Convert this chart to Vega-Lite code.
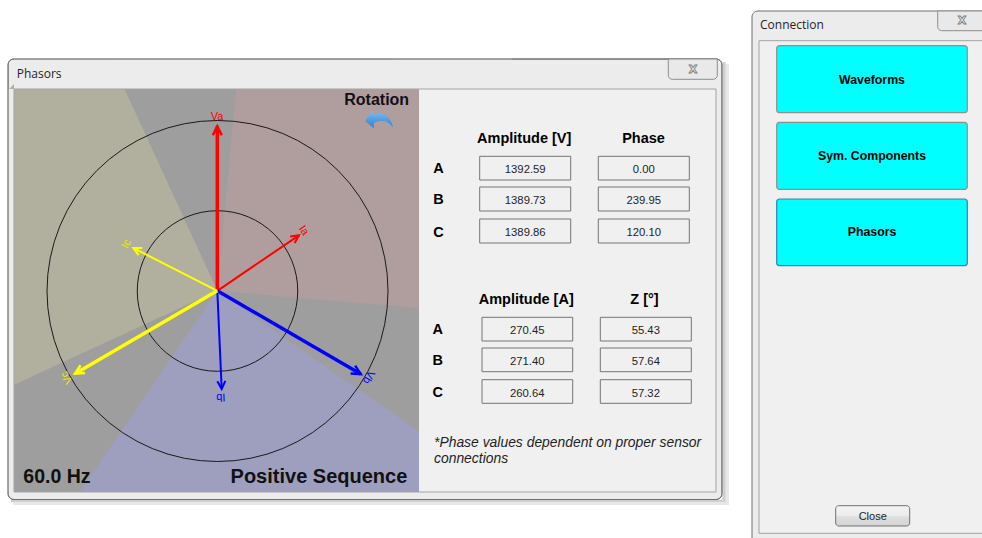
{
  "$schema": "https://vega.github.io/schema/vega-lite/v6.json",
  "width": 982,
  "height": 538,
  "autosize": {"type": "none"},
  "padding": 0,
  "background": "#ffffff",
  "config": {"view": {"stroke": null}},
  "data": {"values": [{}]},
  "datasets": {
    "frames": [
      {"x": 8, "x2": 722, "y": 59, "y2": 499.5},
      {"x": 752, "x2": 992, "y": 11, "y2": 545}
    ],
    "panel": [{"x": 14, "x2": 419, "y": 89, "y2": 492}],
    "sectors": [
      {"phase": "A", "start": 5.3, "end": 94.9},
      {"phase": "B", "start": 124.9, "end": 214.4},
      {"phase": "C", "start": 245.2, "end": 335.3}
    ],
    "covers": [
      {"kind": "white", "x": 0, "x2": 512, "y": 0, "y2": 58.5},
      {"kind": "white", "x": -100, "x2": 7.5, "y": 0, "y2": 538},
      {"kind": "white", "x": 7.5, "x2": 512, "y": 500, "y2": 600},
      {"kind": "shadowO", "x": 13, "x2": 729, "y": 500, "y2": 505},
      {"kind": "shadowO", "x": 722.5, "x2": 729, "y": 64, "y2": 505},
      {"kind": "shadowI", "x": 11, "x2": 725.5, "y": 500, "y2": 502},
      {"kind": "shadowI", "x": 722.5, "x2": 725.5, "y": 62, "y2": 502},
      {"kind": "frame", "x": 14, "x2": 512, "y": 59.5, "y2": 89},
      {"kind": "frame", "x": 8.5, "x2": 14, "y": 89, "y2": 492},
      {"kind": "frame", "x": 14, "x2": 512, "y": 492, "y2": 499},
      {"kind": "client", "x": 419, "x2": 716, "y": 89, "y2": 492},
      {"kind": "client", "x": 759, "x2": 992, "y": 40.7, "y2": 533.3}
    ],
    "outline": [{"x": 8, "x2": 722, "y": 59, "y2": 499.5}],
    "inner": [
      {"x": 14, "x2": 716, "y": 89, "y2": 492},
      {"x": 759, "x2": 992, "y": 40.7, "y2": 533.3}
    ],
    "titleButtons": [
      {"x": 668.3, "x2": 717.3, "y": 59, "y2": 79.3},
      {"x": 937.7, "x2": 992, "y": 11, "y2": 30.7}
    ],
    "titleX": [
      {"x": 693, "y": 70},
      {"x": 962, "y": 20.7}
    ],
    "phasors": [
      {"name": "Va", "phase": "A", "kind": "V", "x0": 217.3, "y0": 290.8, "x1": 217.3, "y1": 126.3, "dir": 0, "lx": 217, "ly": 116.5},
      {"name": "Ia", "phase": "A", "kind": "I", "x0": 217.3, "y0": 290.8, "x1": 299, "y1": 235.3, "dir": 55.8, "lx": 303.5, "ly": 230.7},
      {"name": "Vb", "phase": "B", "kind": "V", "x0": 217.3, "y0": 290.8, "x1": 360.7, "y1": 374, "dir": 120.1, "lx": 368.3, "ly": 377},
      {"name": "Ib", "phase": "B", "kind": "I", "x0": 217.3, "y0": 290.8, "x1": 221.7, "y1": 389, "dir": 177.4, "lx": 220.9, "ly": 397},
      {"name": "Vc", "phase": "C", "kind": "V", "x0": 217.3, "y0": 290.8, "x1": 75, "y1": 373.7, "dir": 239.8, "lx": 67, "ly": 377.5},
      {"name": "Ic", "phase": "C", "kind": "I", "x0": 217.3, "y0": 290.8, "x1": 133.3, "y1": 248, "dir": 297, "lx": 126.7, "ly": 244}
    ],
    "titles": [
      {"t": "Phasors", "x": 16.7, "y": 78.3},
      {"t": "Connection", "x": 760, "y": 29.3}
    ],
    "headers": [
      {"t": "Amplitude [V]", "x": 524.2, "y": 143},
      {"t": "Phase", "x": 643.5, "y": 143},
      {"t": "A", "x": 438.5, "y": 173.3},
      {"t": "B", "x": 438.5, "y": 204},
      {"t": "C", "x": 438.5, "y": 236.7},
      {"t": "Amplitude [A]", "x": 526.2, "y": 304.3},
      {"t": "Z [°]", "x": 644.5, "y": 304.3},
      {"t": "A", "x": 437.7, "y": 334.3},
      {"t": "B", "x": 437.7, "y": 365.3},
      {"t": "C", "x": 437.7, "y": 396.7}
    ],
    "readings": [
      {"v": "1392.59", "x": 479.7, "x2": 570.7, "y": 156.3, "y2": 180, "xc": 525.2, "yb": 173.1},
      {"v": "0.00", "x": 598.3, "x2": 689.3, "y": 156.3, "y2": 180, "xc": 643.8, "yb": 173.1},
      {"v": "1389.73", "x": 479.7, "x2": 570.7, "y": 187, "y2": 211, "xc": 525.2, "yb": 204},
      {"v": "239.95", "x": 598.3, "x2": 689.3, "y": 187, "y2": 211, "xc": 643.8, "yb": 204},
      {"v": "1389.86", "x": 479.7, "x2": 570.7, "y": 219, "y2": 243, "xc": 525.2, "yb": 236.3},
      {"v": "120.10", "x": 598.3, "x2": 689.3, "y": 219, "y2": 243, "xc": 643.8, "yb": 236.3},
      {"v": "270.45", "x": 482, "x2": 572.7, "y": 317.3, "y2": 341, "xc": 527.3, "yb": 334.3},
      {"v": "55.43", "x": 600.3, "x2": 691.3, "y": 317.3, "y2": 341, "xc": 645.8, "yb": 334.3},
      {"v": "271.40", "x": 482, "x2": 572.7, "y": 348, "y2": 371.7, "xc": 527.3, "yb": 365.3},
      {"v": "57.64", "x": 600.3, "x2": 691.3, "y": 348, "y2": 371.7, "xc": 645.8, "yb": 365.3},
      {"v": "260.64", "x": 482, "x2": 572.7, "y": 379.7, "y2": 403.3, "xc": 527.3, "yb": 396.7},
      {"v": "57.32", "x": 600.3, "x2": 691.3, "y": 379.7, "y2": 403.3, "xc": 645.8, "yb": 396.7}
    ],
    "footnote": [
      {"t": "*Phase values dependent on proper sensor", "x": 434, "y": 447.3},
      {"t": "connections", "x": 434, "y": 462.7}
    ],
    "buttons": [
      {"t": "Waveforms", "focus": "no", "x": 776.7, "x2": 967.3, "y": 45.7, "y2": 112.7, "xc": 872, "yb": 83.8},
      {"t": "Sym. Components", "focus": "no", "x": 776.7, "x2": 967.3, "y": 122.3, "y2": 189.3, "xc": 872, "yb": 160.3},
      {"t": "Phasors", "focus": "yes", "x": 776.7, "x2": 967.3, "y": 199, "y2": 265.7, "xc": 872, "yb": 236.3}
    ],
    "closeButton": [
      {"t": "Close", "x": 835.7, "x2": 909.7, "y": 505.7, "y2": 526, "xc": 872.7, "yb": 520}
    ],
    "panelLeft": [{"t": "60.0 Hz", "x": 23.3, "y": 483}],
    "panelRight": [{"t": "Positive Sequence", "x": 407.3, "y": 483}],
    "panelTop": [{"t": "Rotation", "x": 376.7, "y": 105.3}]
  },
  "resolve": {"scale": {"color": "independent", "size": "independent", "strokeWidth": "independent"}},
  "layer": [
    {
      "data": {"name": "frames"},
      "mark": {"type": "rect", "fill": "#ececec", "stroke": "#6e6e6e", "strokeWidth": 1, "cornerRadius": 6},
      "encoding": {
        "x": {"field": "x", "type": "quantitative", "scale": {"domain": [0, 982], "nice": false, "zero": false}, "axis": null},
        "x2": {"field": "x2"},
        "y": {"field": "y", "type": "quantitative", "scale": {"domain": [0, 538], "nice": false, "zero": false, "reverse": true}, "axis": null},
        "y2": {"field": "y2"}
      }
    },
    {
      "data": {"name": "panel"},
      "mark": {"type": "rect", "fill": "#9e9e9e"},
      "encoding": {
        "x": {"field": "x", "type": "quantitative", "axis": null},
        "x2": {"field": "x2"},
        "y": {"field": "y", "type": "quantitative", "axis": null},
        "y2": {"field": "y2"}
      }
    },
    {
      "data": {"name": "sectors"},
      "mark": {"type": "arc", "radius": 290},
      "encoding": {
        "x": {"datum": 217.3, "type": "quantitative", "axis": null},
        "y": {"datum": 290.8, "type": "quantitative", "axis": null},
        "theta": {"field": "start", "type": "quantitative", "stack": null, "scale": {"domain": [0, 360], "range": [0, 6.283185307179586], "zero": false, "nice": false}},
        "theta2": {"field": "end"},
        "color": {"field": "phase", "type": "nominal", "scale": {"domain": ["A", "B", "C"], "range": ["#b09e9e", "#9e9ebe", "#b1b09e"]}, "legend": null}
      }
    },
    {
      "data": {"name": "covers"},
      "mark": {"type": "rect"},
      "encoding": {
        "x": {"field": "x", "type": "quantitative", "axis": null},
        "x2": {"field": "x2"},
        "y": {"field": "y", "type": "quantitative", "axis": null},
        "y2": {"field": "y2"},
        "color": {"field": "kind", "type": "nominal", "scale": {"domain": ["white", "shadowO", "shadowI", "frame", "client"], "range": ["#ffffff", "#e8e8e8", "#cfcfcf", "#ececec", "#f0f0f0"]}, "legend": null}
      }
    },
    {
      "data": {"name": "outline"},
      "mark": {"type": "rect", "filled": false, "stroke": "#6e6e6e", "strokeWidth": 1, "cornerRadius": 6},
      "encoding": {
        "x": {"field": "x", "type": "quantitative", "axis": null},
        "x2": {"field": "x2"},
        "y": {"field": "y", "type": "quantitative", "axis": null},
        "y2": {"field": "y2"}
      }
    },
    {
      "data": {"name": "inner"},
      "mark": {"type": "rect", "filled": false, "stroke": "#a3a3a3", "strokeWidth": 1},
      "encoding": {
        "x": {"field": "x", "type": "quantitative", "axis": null},
        "x2": {"field": "x2"},
        "y": {"field": "y", "type": "quantitative", "axis": null},
        "y2": {"field": "y2"}
      }
    },
    {
      "data": {"name": "titleButtons"},
      "mark": {"type": "rect", "fill": "#e9e9e9", "stroke": "#8e8e8e", "strokeWidth": 1, "cornerRadiusBottomLeft": 4, "cornerRadiusBottomRight": 4},
      "encoding": {
        "x": {"field": "x", "type": "quantitative", "axis": null},
        "x2": {"field": "x2"},
        "y": {"field": "y", "type": "quantitative", "axis": null},
        "y2": {"field": "y2"}
      }
    },
    {
      "data": {"name": "titleX"},
      "mark": {"type": "text", "text": "X", "font": "DejaVu Sans", "fontWeight": "bold", "fontSize": 11, "fill": "#f7f7f7", "stroke": "#808080", "strokeWidth": 0.9, "align": "center", "baseline": "middle"},
      "encoding": {
        "x": {"field": "x", "type": "quantitative", "axis": null},
        "y": {"field": "y", "type": "quantitative", "axis": null}
      }
    },
    {
      "mark": {"type": "point", "shape": "circle", "size": 116281, "filled": false, "stroke": "#1a1a1a", "strokeWidth": 1, "opacity": 1},
      "encoding": {
        "x": {"datum": 217.5, "type": "quantitative", "axis": null},
        "y": {"datum": 291, "type": "quantitative", "axis": null}
      }
    },
    {
      "mark": {"type": "point", "shape": "circle", "size": 25760, "filled": false, "stroke": "#1a1a1a", "strokeWidth": 1, "opacity": 1},
      "encoding": {
        "x": {"datum": 217.5, "type": "quantitative", "axis": null},
        "y": {"datum": 291, "type": "quantitative", "axis": null}
      }
    },
    {
      "data": {"name": "phasors"},
      "mark": {"type": "rule"},
      "encoding": {
        "x": {"field": "x0", "type": "quantitative", "axis": null},
        "y": {"field": "y0", "type": "quantitative", "axis": null},
        "x2": {"field": "x1"},
        "y2": {"field": "y1"},
        "color": {"field": "phase", "type": "nominal", "scale": {"domain": ["A", "B", "C"], "range": ["#ff0000", "#0000ff", "#ffff00"]}, "legend": null},
        "strokeWidth": {"field": "kind", "type": "ordinal", "scale": {"domain": ["V", "I"], "range": [3.5, 2]}, "legend": null}
      }
    },
    {
      "data": {"name": "phasors"},
      "mark": {"type": "point", "shape": "M-0.5,1L0,0L0.5,1", "filled": false, "opacity": 1},
      "encoding": {
        "x": {"field": "x1", "type": "quantitative", "axis": null},
        "y": {"field": "y1", "type": "quantitative", "axis": null},
        "angle": {"field": "dir", "type": "quantitative", "scale": null},
        "color": {"field": "phase", "type": "nominal", "scale": {"domain": ["A", "B", "C"], "range": ["#ff0000", "#0000ff", "#ffff00"]}, "legend": null},
        "size": {"field": "kind", "type": "ordinal", "scale": {"domain": ["V", "I"], "range": [324, 256]}, "legend": null},
        "strokeWidth": {"field": "kind", "type": "ordinal", "scale": {"domain": ["V", "I"], "range": [2.5, 2]}, "legend": null}
      }
    },
    {
      "data": {"name": "phasors"},
      "mark": {"type": "text", "font": "Liberation Sans", "fontSize": 11, "align": "center", "baseline": "middle"},
      "encoding": {
        "x": {"field": "lx", "type": "quantitative", "axis": null},
        "y": {"field": "ly", "type": "quantitative", "axis": null},
        "text": {"field": "name"},
        "angle": {"field": "dir", "type": "quantitative", "scale": null},
        "color": {"field": "phase", "type": "nominal", "scale": {"domain": ["A", "B", "C"], "range": ["#ff0000", "#0000ff", "#eaea00"]}, "legend": null}
      }
    },
    {
      "mark": {
        "type": "point",
        "shape": "M-1,0.15L-0.45,-0.62L-0.42,-0.28C0.3,-0.55 0.85,-0.2 1,0.6C0.6,0.05 0.1,0.05 -0.38,0.3L-0.35,0.68Z",
        "size": 784,
        "filled": true,
        "opacity": 1,
        "color": {"gradient": "linear", "x1": 0, "y1": 0, "x2": 0, "y2": 1, "stops": [{"offset": 0, "color": "#7cc0f2"}, {"offset": 1, "color": "#2f7fcf"}]}
      },
      "encoding": {
        "x": {"datum": 379, "type": "quantitative", "axis": null},
        "y": {"datum": 119, "type": "quantitative", "axis": null}
      }
    },
    {
      "data": {"name": "panelTop"},
      "mark": {"type": "text", "font": "Liberation Sans", "fontWeight": "bold", "fontSize": 16, "align": "center", "baseline": "alphabetic", "color": "#111111"},
      "encoding": {
        "x": {"field": "x", "type": "quantitative", "axis": null},
        "y": {"field": "y", "type": "quantitative", "axis": null},
        "text": {"field": "t"}
      }
    },
    {
      "data": {"name": "panelLeft"},
      "mark": {"type": "text", "font": "Liberation Sans", "fontWeight": "bold", "fontSize": 19.5, "align": "left", "baseline": "alphabetic", "color": "#111111"},
      "encoding": {
        "x": {"field": "x", "type": "quantitative", "axis": null},
        "y": {"field": "y", "type": "quantitative", "axis": null},
        "text": {"field": "t"}
      }
    },
    {
      "data": {"name": "panelRight"},
      "mark": {"type": "text", "font": "Liberation Sans", "fontWeight": "bold", "fontSize": 20, "align": "right", "baseline": "alphabetic", "color": "#111111"},
      "encoding": {
        "x": {"field": "x", "type": "quantitative", "axis": null},
        "y": {"field": "y", "type": "quantitative", "axis": null},
        "text": {"field": "t"}
      }
    },
    {
      "data": {"name": "titles"},
      "mark": {"type": "text", "font": "Open Sans", "fontSize": 12, "align": "left", "baseline": "alphabetic", "color": "#1f1f1f"},
      "encoding": {
        "x": {"field": "x", "type": "quantitative", "axis": null},
        "y": {"field": "y", "type": "quantitative", "axis": null},
        "text": {"field": "t"}
      }
    },
    {
      "data": {"name": "headers"},
      "mark": {"type": "text", "font": "Liberation Sans", "fontWeight": "bold", "fontSize": 14.5, "align": "center", "baseline": "alphabetic", "color": "#000000"},
      "encoding": {
        "x": {"field": "x", "type": "quantitative", "axis": null},
        "y": {"field": "y", "type": "quantitative", "axis": null},
        "text": {"field": "t"}
      }
    },
    {
      "data": {"name": "readings"},
      "mark": {"type": "rect", "fill": "#f0f0f0", "stroke": "#747474", "strokeWidth": 1},
      "encoding": {
        "x": {"field": "x", "type": "quantitative", "axis": null},
        "x2": {"field": "x2"},
        "y": {"field": "y", "type": "quantitative", "axis": null},
        "y2": {"field": "y2"}
      }
    },
    {
      "data": {"name": "readings"},
      "mark": {"type": "text", "font": "Liberation Sans", "fontSize": 11.3, "align": "center", "baseline": "alphabetic", "color": "#1e1e1e"},
      "encoding": {
        "x": {"field": "xc", "type": "quantitative", "axis": null},
        "y": {"field": "yb", "type": "quantitative", "axis": null},
        "text": {"field": "v"}
      }
    },
    {
      "data": {"name": "footnote"},
      "mark": {"type": "text", "font": "Liberation Sans", "fontStyle": "italic", "fontSize": 13.9, "align": "left", "baseline": "alphabetic", "color": "#1e1e1e"},
      "encoding": {
        "x": {"field": "x", "type": "quantitative", "axis": null},
        "y": {"field": "y", "type": "quantitative", "axis": null},
        "text": {"field": "t"}
      }
    },
    {
      "data": {"name": "buttons"},
      "mark": {"type": "rect", "fill": "#00ffff", "strokeWidth": 1.2, "cornerRadius": 3},
      "encoding": {
        "x": {"field": "x", "type": "quantitative", "axis": null},
        "x2": {"field": "x2"},
        "y": {"field": "y", "type": "quantitative", "axis": null},
        "y2": {"field": "y2"},
        "stroke": {"field": "focus", "type": "nominal", "scale": {"domain": ["no", "yes"], "range": ["#8f8f8f", "#3c7fb1"]}, "legend": null}
      }
    },
    {
      "data": {"name": "buttons"},
      "mark": {"type": "text", "font": "Liberation Sans", "fontWeight": "bold", "fontSize": 12.3, "align": "center", "baseline": "alphabetic", "color": "#000000"},
      "encoding": {
        "x": {"field": "xc", "type": "quantitative", "axis": null},
        "y": {"field": "yb", "type": "quantitative", "axis": null},
        "text": {"field": "t"}
      }
    },
    {
      "data": {"name": "closeButton"},
      "mark": {
        "type": "rect",
        "stroke": "#707070",
        "strokeWidth": 1,
        "cornerRadius": 3,
        "fill": {"gradient": "linear", "x1": 0, "y1": 0, "x2": 0, "y2": 1, "stops": [{"offset": 0, "color": "#f5f5f5"}, {"offset": 0.5, "color": "#ebebeb"}, {"offset": 0.55, "color": "#dedede"}, {"offset": 1, "color": "#d4d4d4"}]}
      },
      "encoding": {
        "x": {"field": "x", "type": "quantitative", "axis": null},
        "x2": {"field": "x2"},
        "y": {"field": "y", "type": "quantitative", "axis": null},
        "y2": {"field": "y2"}
      }
    },
    {
      "data": {"name": "closeButton"},
      "mark": {"type": "text", "font": "Liberation Sans", "fontSize": 11, "align": "center", "baseline": "alphabetic", "color": "#1e1e1e"},
      "encoding": {
        "x": {"field": "xc", "type": "quantitative", "axis": null},
        "y": {"field": "yb", "type": "quantitative", "axis": null},
        "text": {"field": "t"}
      }
    }
  ]
}
